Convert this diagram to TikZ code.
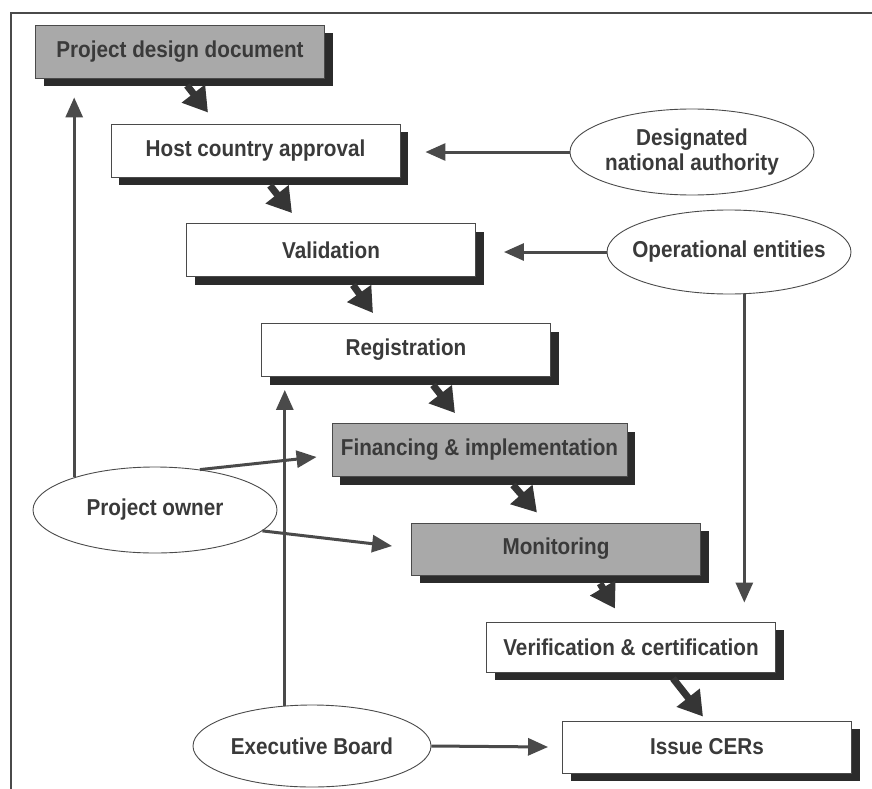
\documentclass[tikz,border=0pt]{standalone}
\usepackage{fontspec}
\setmainfont{Liberation Sans}[FakeStretch=0.9]
\usetikzlibrary{arrows.meta,shapes.geometric,shadows,calc}
\definecolor{txt}{HTML}{3A3A3A}
\definecolor{boxgray}{HTML}{A9A9A9}
\definecolor{shad}{HTML}{2B2B2B}
\definecolor{lin}{HTML}{4A4A4A}
\definecolor{arr}{HTML}{353535}
\begin{document}
\begin{tikzpicture}[x=1pt,y=-1pt,
  every node/.style={font=\fontsize{23}{25}\selectfont\bfseries, text=txt},
  stepbox/.style={draw=lin, line width=0.9pt, fill=white, minimum width=289pt, minimum height=53pt, inner sep=0pt,
    drop shadow={shadow xshift=8pt, shadow yshift=-8pt, fill=shad, opacity=1}},
  graybox/.style={stepbox, fill=boxgray},
  actor/.style={ellipse, draw=lin, line width=0.9pt, fill=white, minimum width=244pt, minimum height=86pt,
    inner xsep=-40pt, inner ysep=0pt, align=center},
  flow/.style={draw=arr, line width=7pt, -{Triangle[length=24pt,width=28pt]}},
  link/.style={draw=lin, line width=3pt, -{Triangle[length=20pt,width=17pt]}},
  frameline/.style={draw=lin, line width=1.2pt}
]
\useasboundingbox (0,0) rectangle (872,789);
\draw[frameline] (11,789) -- (11,13) -- (872,13);

% process boxes
\node[graybox] (pdd) at (180,51.5) {Project design document};
\node[stepbox] (host) at (255.5,150.5) {Host country approval};
\node[stepbox] (val) at (331,250) {Validation};
\node[stepbox] (reg) at (406,350) {Registration};
\node[graybox, minimum width=295pt] (fin) at (479.5,450) {Financing \& implementation};
\node[graybox, minimum height=52pt] (mon) at (556,549) {Monitoring};
\node[stepbox, minimum height=50pt] (ver) at (631,647) {Verification \& certification};
\node[stepbox, minimum height=52pt] (iss) at (707,747) {Issue CERs};

% actors
\node[actor] (dna) at (692,152) {Designated\\national authority};
\node[actor, minimum height=84pt] (oe) at (729,252) {Operational entities};
\node[actor] (po) at (155,510) {Project owner};
\node[actor, minimum width=238pt, minimum height=82pt] (eb) at (312,746) {Executive Board};

% flow arrows between boxes
\draw[flow] ([shift={(7,7)}]pdd.south) -- ([shift={(-47.5,-11)}]host.north);
\draw[flow] ([shift={(14.5,8)}]host.south) -- ([shift={(-39,-10)}]val.north);
\draw[flow] ([shift={(22,8)}]val.south) -- ([shift={(-33,-10)}]reg.north);
\draw[flow] ([shift={(27,8)}]reg.south) -- ([shift={(-24.5,-10)}]fin.north);
\draw[flow] ([shift={(33.5,8)}]fin.south) -- ([shift={(-19,-10)}]mon.north);
\draw[flow] ([shift={(44,8)}]mon.south) -- ([shift={(-16,-13)}]ver.north);
\draw[flow] ([shift={(42,6)}]ver.south) -- ([shift={(-4,-4)}]iss.north);

% actor links
\coordinate (pdtip) at ([yshift=-19pt]pdd.south);
\coordinate (regtip) at ([yshift=-13pt]reg.south);
\coordinate (hosttip) at ([xshift=25pt]host.east);
\coordinate (valtip) at ([xshift=28pt]val.east);
\coordinate (vertip) at ([yshift=19pt]ver.north);
\draw[link] (po.158) -- (po.158 |- pdtip);
\draw[link] (po.42) -- ([shift={(-15,7)}]fin.west);
\draw[link] (po.-11.5) -- ([shift={(-19,-3)}]mon.west);
\draw[link] (eb.124) -- (eb.124 |- regtip);
\draw[link] (eb.east) -- ([xshift=-14pt]iss.west);
\draw[link] (dna.west) -- (dna.west -| hosttip);
\draw[link] (oe.west) -- (oe.west -| valtip);
\draw[link] (oe.-70) -- (oe.-70 |- vertip);
\end{tikzpicture}
\end{document}
